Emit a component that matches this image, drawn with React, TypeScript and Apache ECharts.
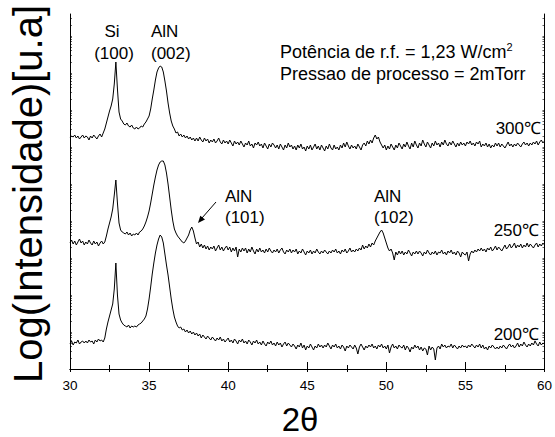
import React, { useEffect, useRef } from "react";
import * as echarts from "echarts";

// scan grid: 2θ from 30 to 60 in steps of 0.1
const THETA_START = 30;
const THETA_STEP = 0.1;
const X_TICKS = [30, 35, 40, 45, 50, 55, 60];

// intensities (arbitrary log units), one row per degree (x.0 .. x.9)
const s300 = [
  231, 233, 232, 234, 231, 233, 230, 232, 234, 231,
  233, 232, 229, 233, 231, 234, 232, 230, 233, 235,
  232, 236, 240, 246, 252, 258, 263, 270, 285, 307,
  280, 257, 250, 248, 245, 244, 246, 243, 242, 244,
  241, 240, 242, 240, 241, 243, 242, 245, 247, 250,
  253, 260, 270, 279, 289, 297, 301, 303, 302, 297,
  288, 278, 266, 256, 248, 243, 240, 236, 237, 233,
  235, 232, 234, 231, 233, 230, 232, 229, 231, 228,
  231, 228, 232, 229, 227, 231, 228, 230, 226, 229,
  227, 230, 226, 228, 231, 227, 225, 229, 226, 228,
  225, 229, 226, 223, 228, 225, 227, 224, 228, 225,
  222, 226, 224, 228, 223, 225, 221, 226, 224, 227,
  223, 225, 221, 226, 223, 220, 225, 222, 226, 224,
  221, 224, 220, 225, 222, 219, 224, 221, 226, 222,
  224, 220, 223, 219, 224, 221, 225, 220, 222, 218,
  223, 220, 224, 219, 222, 225, 220, 223, 219, 224,
  221, 218, 223, 220, 225, 221, 219, 224, 220, 222,
  219, 224, 221, 226, 222, 227, 223, 220, 224, 221,
  223, 220, 225, 222, 219, 224, 226, 223, 228, 225,
  229, 226, 231, 234, 230, 232, 227, 224, 221, 224,
  219, 223, 220, 225, 222, 219, 224, 221, 226, 223,
  220, 225, 222, 227, 223, 220, 226, 222, 228, 224,
  221, 226, 223, 229, 225, 222, 227, 224, 221, 226,
  223, 228, 224, 226, 222, 227, 224, 229, 225, 223,
  227, 224, 228, 225, 222, 226, 223, 227, 224, 226,
  223, 227, 225, 228, 224, 226, 223, 227, 225, 228,
  222, 225, 223, 226, 222, 225, 221, 224, 222, 226,
  223, 226, 222, 225, 223, 221, 224, 227, 223, 225,
  222, 225, 223, 226, 224, 222, 225, 227, 224, 226,
  223, 226, 224, 227, 225, 228, 224, 227, 229, 226,
  228,
];

const s250 = [
  126, 129, 125, 128, 124, 127, 130, 126, 128, 124,
  127, 125, 129, 126, 124, 128, 125, 127, 123, 126,
  128, 125, 127, 133, 140, 146, 152, 160, 174, 189,
  166, 146, 139, 137, 136, 135, 137, 134, 136, 133,
  135, 134, 136, 134, 137, 138, 140, 143, 147, 152,
  158, 166, 175, 184, 192, 199, 204, 207, 208, 208,
  204, 196, 185, 172, 159, 148, 140, 136, 133, 131,
  129, 127, 126, 128, 131, 134, 139, 142, 138, 131,
  125, 127, 122, 125, 121, 124, 120, 123, 119, 122,
  120, 123, 118, 121, 124, 119, 122, 118, 121, 123,
  119, 122, 117, 121, 118, 122, 112, 120, 117, 121,
  118, 121, 116, 120, 117, 122, 118, 115, 120, 117,
  121, 117, 119, 116, 120, 117, 121, 118, 116, 119,
  117, 120, 116, 119, 121, 117, 115, 119, 117, 120,
  116, 119, 117, 120, 115, 118, 116, 120, 117, 114,
  118, 116, 119, 115, 118, 116, 120, 117, 115, 118,
  116, 119, 117, 115, 118, 116, 119, 117, 120, 116,
  118, 115, 119, 117, 120, 116, 118, 121, 117, 119,
  117, 120, 118, 121, 119, 124, 120, 123, 121, 125,
  122, 126, 124, 128, 131, 134, 137, 139, 136, 131,
  126, 121, 118, 120, 116, 109, 117, 114, 118, 115,
  118, 114, 117, 115, 119, 116, 113, 117, 115, 118,
  115, 118, 116, 113, 117, 115, 119, 116, 114, 117,
  115, 118, 114, 117, 116, 119, 115, 117, 114, 118,
  116, 119, 115, 117, 114, 118, 116, 112, 117, 115,
  114, 117, 108, 115, 118, 116, 119, 117, 120, 118,
  121, 118, 120, 117, 121, 119, 122, 118, 120, 123,
  119, 122, 120, 118, 121, 124, 120, 122, 125, 121,
  123, 126, 121, 124, 122, 125, 121, 124, 122, 126,
  122, 125, 123, 121, 124, 126, 122, 125, 123, 126,
  124,
];

const s200 = [
  25, 28, 24, 27, 26, 29, 25, 27, 28, 26,
  28, 26, 29, 27, 28, 25, 29, 27, 30, 28,
  29, 27, 31, 40, 47, 53, 59, 65, 80, 106,
  74, 55, 49, 46, 44, 43, 42, 44, 41, 43,
  42, 43, 42, 44, 45, 46, 48, 50, 53, 60,
  70, 82, 95, 106, 116, 124, 130, 134, 132, 126,
  115, 104, 94, 82, 70, 60, 52, 47, 43, 41,
  42, 39, 40, 37, 39, 36, 38, 35, 37, 34,
  36, 33, 35, 31, 34, 32, 30, 33, 31, 29,
  32, 30, 28, 31, 29, 32, 28, 30, 27, 29,
  31, 27, 29, 26, 30, 28, 25, 29, 27, 30,
  26, 28, 25, 29, 27, 24, 28, 26, 29, 25,
  27, 24, 28, 25, 23, 27, 25, 28, 24, 26,
  23, 27, 24, 26, 22, 25, 27, 23, 26, 24,
  22, 25, 23, 20, 24, 22, 26, 21, 24, 19,
  23, 21, 25, 22, 19, 23, 21, 25, 22, 24,
  21, 24, 22, 26, 23, 20, 24, 22, 25, 21,
  23, 20, 24, 22, 18, 23, 21, 24, 22, 20,
  24, 21, 15, 22, 25, 22, 19, 23, 21, 24,
  22, 25, 21, 23, 20, 24, 22, 25, 21, 23,
  20, 24, 16, 22, 25, 21, 23, 20, 24, 22,
  21, 24, 19, 23, 21, 17, 22, 20, 24, 21,
  23, 19, 22, 18, 21, 20, 14, 23, 19, 22,
  20, 9, 21, 23, 20, 25, 22, 24, 21, 23,
  22, 25, 21, 24, 22, 20, 23, 21, 24, 22,
  23, 21, 24, 22, 25, 23, 21, 24, 22, 25,
  21, 24, 20, 22, 19, 23, 21, 24, 22, 20,
  22, 20, 23, 21, 24, 22, 20, 23, 25, 22,
  24, 21, 23, 26, 22, 25, 23, 27, 24, 22,
  25, 23, 26, 24, 28, 25, 23, 27, 24, 26,
  25,
];

const SERIES_NAMES = ["300℃", "250℃", "200℃"];

const FONT = "'Liberation Sans', Arial, Helvetica, sans-serif";

function toPairs(vals: number[]) {
  return vals.map((v, i) => [
    Math.round((THETA_START + i * THETA_STEP) * 10) / 10,
    v,
  ]);
}

// decorative log-style minor ticks on the intensity axis
function logTicks(): number[] {
  const out: number[] = [];
  const D = 37;
  for (let d = 0; d < 10; d++) {
    for (let k = 1; k <= 9; k++) {
      const v = d * D + D * Math.log10(k);
      if (v <= 355) out.push(Math.round(v * 10) / 10);
    }
  }
  return out;
}

export default function App() {
  const ref = useRef<HTMLDivElement>(null);
  useEffect(() => {
    if (!ref.current) return;
    const chart = echarts.init(ref.current, undefined, { renderer: "svg" });
    const yt = logTicks();
    const black = "#000";
    const txt = (x: number, y: number, s: string, align = "center", size = 17) => ({
      type: "text",
      x,
      y,
      style: {
        text: s,
        fill: black,
        font: `${size}px ${FONT}`,
        align,
        verticalAlign: "middle",
      },
    });
    const lineSeries = (name: string, vals: number[]) => ({
      name,
      type: "line",
      data: toPairs(vals),
      showSymbol: false,
      symbol: "none",
      lineStyle: { color: black, width: 1 },
      silent: true,
    });
    chart.setOption({
      animation: false,
      backgroundColor: "#fff",
      grid: { left: 70, top: 14, right: 6, bottom: 68, containLabel: false },
      xAxis: [
        {
          type: "value",
          min: 30,
          max: 60,
          interval: 5,
          position: "bottom",
          axisLine: { show: true, lineStyle: { color: black, width: 1 } },
          axisTick: {
            show: true,
            inside: true,
            length: 7,
            customValues: X_TICKS,
            lineStyle: { color: black },
          },
          minorTick: { show: true, splitNumber: 2, length: 4, lineStyle: { color: black } },
          axisLabel: {
            color: black,
            fontSize: 13.5,
            fontFamily: FONT,
            margin: 9,
            customValues: X_TICKS,
          },
          splitLine: { show: false },
        },
        {
          type: "value",
          min: 30,
          max: 60,
          interval: 5,
          position: "top",
          axisLine: { show: true, lineStyle: { color: black, width: 1 } },
          axisTick: { show: true, inside: true, length: 3, lineStyle: { color: black } },
          minorTick: { show: true, splitNumber: 2, length: 3, lineStyle: { color: black } },
          axisLabel: { show: false },
          splitLine: { show: false },
        },
      ],
      yAxis: [
        {
          type: "value",
          min: 0,
          max: 355,
          position: "left",
          axisLine: { show: true, lineStyle: { color: black, width: 1 } },
          axisTick: {
            show: true,
            inside: true,
            length: 2,
            customValues: yt,
            lineStyle: { color: black, width: 0.6 },
          },
          axisLabel: { show: false },
          splitLine: { show: false },
        },
        {
          type: "value",
          min: 0,
          max: 355,
          position: "right",
          axisLine: { show: true, lineStyle: { color: black, width: 1 } },
          axisTick: {
            show: true,
            inside: true,
            length: 2,
            customValues: yt,
            lineStyle: { color: black, width: 0.6 },
          },
          axisLabel: { show: false },
          splitLine: { show: false },
        },
      ],
      series: [
        lineSeries(SERIES_NAMES[0], s300),
        lineSeries(SERIES_NAMES[1], s250),
        lineSeries(SERIES_NAMES[2], s200),
      ],
      graphic: [
        txt(112, 31, "Si"),
        txt(114, 53, "(100)"),
        txt(151, 31, "AlN", "left"),
        txt(151, 53, "(002)", "left"),
        txt(225, 196, "AlN", "left"),
        txt(225, 217, "(101)", "left"),
        txt(374, 196, "AlN", "left"),
        txt(374, 217, "(102)", "left"),
        {
          type: "text",
          x: 280,
          y: 52,
          style: {
            text: "Potência de r.f. = 1,23 W/cm{sup|2}",
            fill: black,
            font: `18px ${FONT}`,
            align: "left",
            verticalAlign: "middle",
            rich: {
              sup: { fontSize: 11, fontFamily: FONT, fill: black, verticalAlign: "top", lineHeight: 22, padding: [0, 0, 9, 0] },
            },
          },
        },
        txt(280, 74, "Pressao de processo = 2mTorr", "left", 18),
        txt(541, 128, SERIES_NAMES[0], "right", 17),
        txt(539, 230, SERIES_NAMES[1], "right", 17),
        txt(539, 334, SERIES_NAMES[2], "right", 17),
        {
          type: "line",
          shape: { x1: 216, y1: 202, x2: 202, y2: 218 },
          style: { stroke: black, lineWidth: 1 },
        },
        {
          type: "polygon",
          shape: { points: [[198, 223], [205, 219.6], [200.3, 215.7]] },
          style: { fill: black },
        },
        {
          type: "text",
          x: 28,
          y: 194,
          rotation: Math.PI / 2,
          style: {
            text: "Log(Intensidade)[u.a]",
            fill: black,
            font: `40px ${FONT}`,
            align: "center",
            verticalAlign: "middle",
          },
        },
        txt(300, 419, "2θ", "center", 33),
      ],
    });
    return () => chart.dispose();
  }, []);
  return (
    <div
      ref={ref}
      style={{ position: "fixed", left: 0, top: 0, width: 555, height: 437, background: "#fff" }}
    />
  );
}
